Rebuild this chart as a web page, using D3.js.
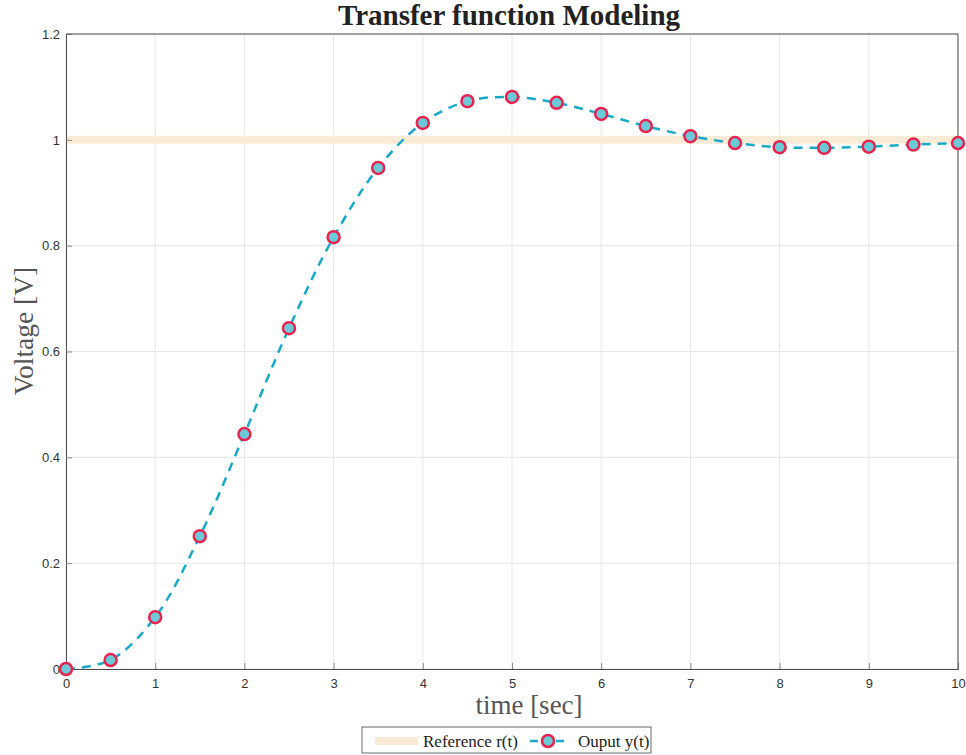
<!DOCTYPE html>
<html>
<head>
<meta charset="utf-8">
<script src="https://cdn.jsdelivr.net/npm/d3@7"></script>
<style>
  body { margin: 0; background: #fff; }
  svg { display: block; }
</style>
</head>
<body>
<svg id="chart" width="966" height="755"></svg>
<script>
// Step response samples (every 0.5 s) and the unit reference
const timeSec = [0, 0.5, 1, 1.5, 2, 2.5, 3, 3.5, 4, 4.5, 5, 5.5, 6, 6.5, 7, 7.5, 8, 8.5, 9, 9.5, 10];
const outputY = [0, 0.017, 0.098, 0.251, 0.444, 0.644, 0.816, 0.947, 1.032, 1.073, 1.081, 1.070, 1.049, 1.026, 1.007, 0.994, 0.986, 0.985, 0.987, 0.991, 0.994];
const refTime = [0, 10];
const refValue = [1, 1];
const xTicks = [0, 1, 2, 3, 4, 5, 6, 7, 8, 9, 10];
const yTicks = [0, 0.2, 0.4, 0.6, 0.8, 1, 1.2];

const svg = d3.select("#chart");
const plotL = 66, plotR = 958, plotT = 34, plotB = 669;
const serif = "Liberation Serif, Times New Roman, serif";

const x = d3.scaleLinear().domain([0, 10]).range([plotL, plotR]);
const y = d3.scaleLinear().domain([0, 1.2]).range([plotB, plotT]);

// grid
const grid = svg.append("g");
grid.selectAll(".gx").data(xTicks).join("line")
  .attr("x1", d => x(d)).attr("x2", d => x(d))
  .attr("y1", plotT).attr("y2", plotB)
  .attr("stroke", "#e6e6e6").attr("stroke-width", 1);
grid.selectAll(".gy").data(yTicks).join("line")
  .attr("x1", plotL).attr("x2", plotR)
  .attr("y1", d => y(d)).attr("y2", d => y(d))
  .attr("stroke", "#e6e6e6").attr("stroke-width", 1);

// reference line
const refData = refTime.map((t, i) => [t, refValue[i]]);
svg.append("path")
  .datum(refData)
  .attr("d", d3.line().x(d => x(d[0])).y(d => y(d[1])))
  .attr("fill", "none")
  .attr("stroke", "#faebd7")
  .attr("stroke-width", 8);

// output curve
const outData = timeSec.map((t, i) => [t, outputY[i]]);
svg.append("path")
  .datum(outData)
  .attr("d", d3.line().x(d => x(d[0])).y(d => y(d[1])).curve(d3.curveCatmullRom.alpha(0.5)))
  .attr("fill", "none")
  .attr("stroke", "#18a9c9")
  .attr("stroke-width", 2.5)
  .attr("stroke-dasharray", "9,7");

// axes box
const axisColor = "#4d4d4d";
const xAxis = d3.axisBottom(x).tickValues(xTicks).tickSize(-6).tickPadding(10).tickFormat(d3.format("d"));
const yAxis = d3.axisLeft(y).tickValues(yTicks).tickSize(-6).tickPadding(6).tickFormat(d => d === 0 ? "0" : d3.format("~g")(d));

const gx = svg.append("g").attr("transform", `translate(0,${plotB})`).call(xAxis);
const gy = svg.append("g").attr("transform", `translate(${plotL},0)`).call(yAxis);
[gx, gy].forEach(g => {
  g.select(".domain").attr("stroke", axisColor);
  g.selectAll(".tick line").attr("stroke", "#888");
  g.selectAll(".tick text").attr("fill", "#333").attr("font-family", "Liberation Sans, Arial, sans-serif").attr("font-size", 13);
});
svg.append("line").attr("x1", plotL).attr("x2", plotR).attr("y1", plotT).attr("y2", plotT).attr("stroke", axisColor);
svg.append("line").attr("x1", plotR).attr("x2", plotR).attr("y1", plotT).attr("y2", plotB).attr("stroke", axisColor);

// markers
svg.append("g").selectAll("circle").data(outData).join("circle")
  .attr("cx", d => x(d[0])).attr("cy", d => y(d[1]))
  .attr("r", 6)
  .attr("fill", "#6ccad8")
  .attr("stroke", "#e8234f")
  .attr("stroke-width", 2.5);

// title and labels
svg.append("text")
  .attr("x", 509).attr("y", 25)
  .attr("text-anchor", "middle")
  .attr("font-family", serif)
  .attr("font-weight", "bold").attr("font-size", 29).attr("fill", "#222")
  .text("Transfer function Modeling");

svg.append("text")
  .attr("x", 529).attr("y", 714)
  .attr("text-anchor", "middle")
  .attr("font-family", serif)
  .attr("font-size", 27).attr("fill", "#555")
  .text("time [sec]");

svg.append("text")
  .attr("transform", `translate(33,331) rotate(-90)`)
  .attr("text-anchor", "middle")
  .attr("font-family", serif)
  .attr("font-size", 27.5).attr("fill", "#555")
  .text("Voltage [V]");

// legend
const lg = svg.append("g").attr("transform", "translate(362,727)");
lg.append("rect").attr("width", 289).attr("height", 26).attr("fill", "#fff").attr("stroke", "#444").attr("stroke-width", 0.8);
lg.append("line").attr("x1", 13).attr("x2", 56).attr("y1", 14).attr("y2", 14).attr("stroke", "#faebd7").attr("stroke-width", 8);
lg.append("text").attr("x", 61).attr("y", 19.5).attr("font-family", serif).attr("font-size", 17).attr("fill", "#222").text("Reference r(t)");
lg.append("line").attr("x1", 168).attr("x2", 202).attr("y1", 14).attr("y2", 14).attr("stroke", "#18a9c9").attr("stroke-width", 2.5).attr("stroke-dasharray", "8,5");
lg.append("circle").attr("cx", 186).attr("cy", 14).attr("r", 6).attr("fill", "#6ccad8").attr("stroke", "#e8234f").attr("stroke-width", 2.5);
lg.append("text").attr("x", 216).attr("y", 19.5).attr("font-family", serif).attr("font-size", 17).attr("fill", "#222").text("Ouput y(t)");
</script>
</body>
</html>
